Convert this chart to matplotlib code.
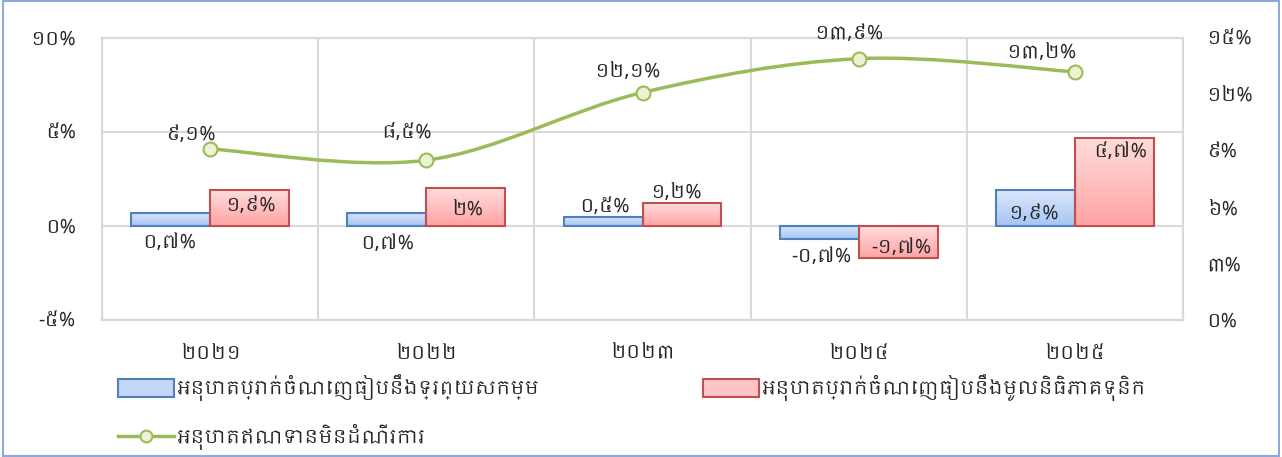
import numpy as np
import matplotlib
matplotlib.use('Agg')
import matplotlib.pyplot as plt
from matplotlib import font_manager
from matplotlib.patches import Patch, Rectangle, PathPatch
from matplotlib.lines import Line2D
from matplotlib.path import Path
from matplotlib.colors import LinearSegmentedColormap

# data (Khmer chart: bank profitability and NPL ratios)
years = ['២០២១', '២០២២', '២០២៣', '២០២៤', '២០២៥']
roa = [0.7, 0.7, 0.5, -0.7, 1.9]
roe = [1.9, 2.0, 1.2, -1.7, 4.7]
npl = [9.1, 8.5, 12.1, 13.9, 13.2]
roa_labels = ['០,៧%', '០,៧%', '០,៥%', '-០,៧%', '១,៩%']
roe_labels = ['១,៩%', '២%', '១,២%', '-១,៧%', '៤,៧%']
npl_labels = ['៩,១%', '៨,៥%', '១២,១%', '១៣,៩%', '១៣,២%']
left_ticks = [-5, 0, 5, 10]
left_ticklabels = ['-៥%', '០%', '៥%', '១០%']
right_ticks = [0, 3, 6, 9, 12, 15]
right_ticklabels = ['០%', '៣%', '៦%', '៩%', '១២%', '១៥%']
legend_names = ['អនុបាតប្រាក់ចំណេញធៀបនឹងទ្រព្យសកម្ម',
                'អនុបាតប្រាក់ចំណេញធៀបនឹងមូលនិធិភាគទុនិក',
                'អនុបាតឥណទានមិនដំណើរការ']

# label placement, pixel offsets (dx, dy) from the bar end / marker
roa_off = [(-2, 30), (0, 31), (1, -10), (2, 18), (-2, 24)]
roe_off = [(1, 16), (1, 22), (-6, -10), (3, -10), (6, 14)]
npl_off = [(-20, -14), (-20, -27), (-15, -21), (-10, -25), (-34, -19)]

# pick a Khmer font if there is one
khmer = [f.name for f in font_manager.fontManager.ttflist if 'khmer' in f.name.lower()]
families = sorted(set(khmer)) + ['DejaVu Sans']
plt.rcParams['font.family'] = families

txt = '#262626'
grid_c = '#d9d9d9'
blue_edge, red_edge, green = '#4f81bd', '#c0504d', '#9bbb59'
blue_cmap = LinearSegmentedColormap.from_list('b', ['#dbe7fb', '#a7c5f4'])
red_cmap = LinearSegmentedColormap.from_list('r', ['#ffdcdc', '#ffa3a3'])
fs = 14
PT = 0.72  # points per pixel at dpi 100

fig = plt.figure(figsize=(12.82, 4.57), dpi=100)
ax = fig.add_axes([102 / 1282, 1 - 320 / 457, 1081 / 1282, 282 / 457])
ax2 = ax.twinx()

x = np.arange(len(years))
w = 0.365

def gradient_bars(bars, cmap):
    grad = np.linspace(0, 1, 64).reshape(-1, 1)
    for b in bars:
        x0, y0 = b.get_x(), b.get_y()
        bw, bh = b.get_width(), b.get_height()
        lo, hi = min(y0, y0 + bh), max(y0, y0 + bh)
        im = ax.imshow(grad, cmap=cmap, extent=(x0, x0 + bw, lo, hi), origin='upper',
                       aspect='auto', zorder=2)
        im.set_clip_path(b)

b1 = ax.bar(x - w / 2, roa, w, facecolor='none', edgecolor=blue_edge, linewidth=1.5, zorder=3)
b2 = ax.bar(x + w / 2, roe, w, facecolor='none', edgecolor=red_edge, linewidth=1.5, zorder=3)
gradient_bars(b1, blue_cmap)
gradient_bars(b2, red_cmap)

def bar_labels(bars, vals, labels, offs):
    for b, v, s, (dx, dy) in zip(bars, vals, labels, offs):
        cx = b.get_x() + b.get_width() / 2
        ax.annotate(s, (cx, v), xytext=(dx * PT, -dy * PT), textcoords='offset points',
                    ha='center', va='center', fontsize=fs, color=txt, zorder=5)

bar_labels(b1, roa, roa_labels, roa_off)
bar_labels(b2, roe, roe_labels, roe_off)

# smoothed line (excel style bezier through the points)
pts = np.column_stack([x, npl]).astype(float)
verts = [pts[0]]
codes = [Path.MOVETO]
n = len(pts)
for i in range(n - 1):
    p_prev = pts[i - 1] if i > 0 else pts[i]
    p_next = pts[i + 2] if i + 2 < n else pts[i + 1]
    c1 = pts[i] + (pts[i + 1] - p_prev) / 6
    c2 = pts[i + 1] - (p_next - pts[i]) / 6
    verts += [c1, c2, pts[i + 1]]
    codes += [Path.CURVE4] * 3
ax2.add_patch(PathPatch(Path(verts, codes), facecolor='none', edgecolor=green,
                        linewidth=2.5, capstyle='round', zorder=4))
ax2.plot(x, npl, linestyle='none', marker='o', markersize=10, markerfacecolor='#ebf3d3',
         markeredgecolor=green, markeredgewidth=1.5, zorder=5)
for xi, v, s, (dx, dy) in zip(x, npl, npl_labels, npl_off):
    ax2.annotate(s, (xi, v), xytext=(dx * PT, -dy * PT), textcoords='offset points',
                 ha='center', va='center', fontsize=fs, color=txt, zorder=6)

# axes
ax.set_xlim(-0.5, len(years) - 0.5)
ax.set_ylim(-5, 10)
ax2.set_ylim(0, 15)
ax.set_yticks(left_ticks)
ax.set_yticklabels(left_ticklabels)
ax2.set_yticks(right_ticks)
ax2.set_yticklabels(right_ticklabels)
ax.set_xticks(x)
ax.set_xticklabels(years)
ax.set_xticks(np.arange(-0.5, len(years), 1), minor=True)
ax.tick_params(axis='x', which='both', length=0, pad=18, labelsize=fs, colors=txt)
ax.tick_params(axis='y', length=0, pad=19, labelsize=fs, colors=txt)
ax2.tick_params(axis='y', length=0, pad=17, labelsize=fs, colors=txt)
ax.grid(axis='y', color=grid_c, linewidth=1.5, zorder=0)
ax.grid(axis='x', which='minor', color=grid_c, linewidth=1.5, zorder=0)
ax.set_axisbelow(True)
for a in (ax, ax2):
    for sp in a.spines.values():
        sp.set_color(grid_c)
        sp.set_linewidth(1.5)

# legends
h_blue = Patch(facecolor='#c3d7f6', edgecolor=blue_edge, linewidth=1.5)
h_red = Patch(facecolor='#ffc4c4', edgecolor=red_edge, linewidth=1.5)
h_line = Line2D([], [], color=green, linewidth=2.5, marker='o', markersize=8.5,
                markerfacecolor='#ebf3d3', markeredgecolor=green, markeredgewidth=1.5)
leg_kw = dict(loc='upper left', frameon=False, fontsize=13.5, handlelength=3.0,
              handleheight=1.1, handletextpad=0.15, borderpad=0, borderaxespad=0,
              labelcolor=txt)
fig.legend([h_blue, h_line], [legend_names[0], legend_names[2]],
           bbox_to_anchor=(118 / 1282, 1 - 374 / 457), labelspacing=1.25, **leg_kw)
fig.legend([h_red], [legend_names[1]],
           bbox_to_anchor=(703 / 1282, 1 - 374 / 457), **leg_kw)

# outer chart border
fig.patches.append(Rectangle((0.002, 0.002), 0.996, 0.996, transform=fig.transFigure,
                             fill=False, edgecolor='#8eaadb', linewidth=1.5))

fig.savefig('out.png', dpi=100)
